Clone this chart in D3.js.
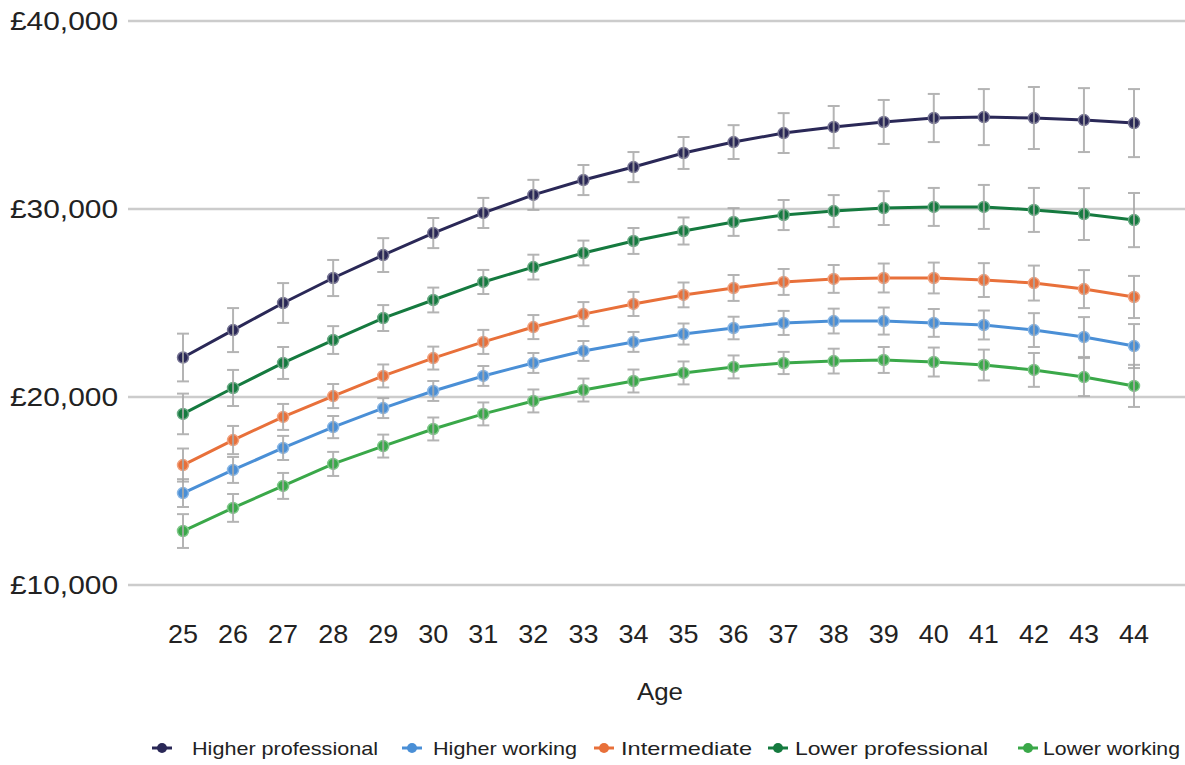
<!DOCTYPE html>
<html><head><meta charset="utf-8">
<script src="https://cdn.jsdelivr.net/npm/d3@7"></script>
<style>body{margin:0;background:#fff;} svg{display:block;font-family:Arial,"Liberation Sans",sans-serif;}</style>
</head><body><svg id="c" width="1185" height="765"></svg>
<script>
const ages = [25,26,27,28,29,30,31,32,33,34,35,36,37,38,39,40,41,42,43,44];
const yTicks = [10000,20000,30000,40000];
const seriesNames = ["Higher professional","Higher working","Intermediate","Lower professional","Lower working"];
const seriesColors = ["#2a2857","#4a8fd6","#e8703a","#157a3f","#3aa849"];

const higherProfessional = [22100,23560,25000,26330,27550,28720,29790,30750,31540,32230,32980,33560,34040,34360,34630,34840,34890,34840,34730,34570];
const higherProfessionalErr = [1270,1170,1060,960,900,800,800,800,800,800,850,900,1060,1120,1170,1280,1490,1650,1700,1810];
const higherWorking = [14890,16120,17290,18400,19410,20320,21120,21810,22450,22930,23350,23670,23940,24040,24040,23940,23830,23560,23190,22710];
const higherWorkingErr = [740,690,640,590,530,530,530,530,530,530,560,600,640,660,720,740,770,900,1060,1170];
const intermediate = [16380,17710,18940,20050,21120,22070,22930,23720,24410,24950,25430,25800,26120,26280,26330,26330,26220,26060,25740,25320];
const intermediateErr = [880,750,690,640,610,610,640,640,640,640,660,690,690,740,770,820,900,930,1010,1120];
const lowerProfessional = [19100,20480,21810,23030,24200,25160,26120,26910,27660,28300,28830,29310,29680,29890,30050,30110,30110,29950,29730,29410];
const lowerProfessionalErr = [1080,960,850,740,690,660,640,660,660,690,720,740,800,850,900,1010,1170,1170,1380,1440];
const lowerWorking = [12870,14100,15270,16440,17390,18300,19100,19790,20370,20850,21280,21600,21810,21910,21970,21860,21700,21440,21060,20590];
const lowerWorkingErr = [900,740,690,640,610,610,610,610,610,610,610,610,590,660,690,770,820,900,1010,1120];

const series = [
  {name: seriesNames[0], color: seriesColors[0], values: higherProfessional, err: higherProfessionalErr},
  {name: seriesNames[1], color: seriesColors[1], values: higherWorking, err: higherWorkingErr},
  {name: seriesNames[2], color: seriesColors[2], values: intermediate, err: intermediateErr},
  {name: seriesNames[3], color: seriesColors[3], values: lowerProfessional, err: lowerProfessionalErr},
  {name: seriesNames[4], color: seriesColors[4], values: lowerWorking, err: lowerWorkingErr}
];

const svg = d3.select("#c");
const x = d3.scalePoint().domain(ages).range([183,1134]);
const y = d3.scaleLinear().domain([10000,40000]).range([585,21]);

// gridlines
svg.append("g").selectAll("line").data(yTicks).join("line")
  .attr("x1",128).attr("x2",1185).attr("y1",d=>y(d)).attr("y2",d=>y(d))
  .attr("stroke","#cccccc").attr("stroke-width",2.5);

// y axis labels
const fmt = d => "£" + d3.format(",")(d);
svg.append("g").selectAll("text").data(yTicks).join("text")
  .attr("x",10).attr("y",d=>y(d)).attr("dy","0.36em").attr("text-anchor","start")
  .attr("font-size",25).attr("fill","#222")
  .attr("textLength",108).attr("lengthAdjust","spacingAndGlyphs").text(fmt);

// x axis labels
svg.append("g").selectAll("text").data(ages).join("text")
  .attr("x",d=>x(d)-15).attr("y",634).attr("dy","0.36em").attr("text-anchor","start")
  .attr("font-size",25).attr("fill","#222")
  .attr("textLength",30).attr("lengthAdjust","spacingAndGlyphs").text(d=>d);

svg.append("text").attr("x",637).attr("y",692).attr("dy","0.36em").attr("text-anchor","start")
  .attr("font-size",23).attr("fill","#222")
  .attr("textLength",46).attr("lengthAdjust","spacingAndGlyphs").text("Age");

const line = d3.line().x((d,i)=>x(ages[i])).y(d=>y(d));

series.forEach(s => {
  const g = svg.append("g");
  g.append("path").attr("d", line(s.values)).attr("fill","none")
    .attr("stroke", s.color).attr("stroke-width",3);
  g.selectAll("circle").data(s.values).join("circle")
    .attr("cx",(d,i)=>x(ages[i])).attr("cy",d=>y(d)).attr("r",5.5)
    .attr("fill",s.color).attr("stroke", d3.interpolateRgb(s.color,"#ffffff")(0.35)).attr("stroke-width",1.5);
  const eb = g.append("g").attr("stroke","#a8a8a8").attr("stroke-width",2).attr("opacity",0.85);
  s.values.forEach((v,i) => {
    const cx = x(ages[i]), lo = y(v - s.err[i]), hi = y(v + s.err[i]);
    eb.append("line").attr("x1",cx).attr("x2",cx).attr("y1",hi).attr("y2",lo);
    eb.append("line").attr("x1",cx-6).attr("x2",cx+6).attr("y1",hi).attr("y2",hi);
    eb.append("line").attr("x1",cx-6).attr("x2",cx+6).attr("y1",lo).attr("y2",lo);
  });
});

// legend
const legendMarkerX = [152,402,594,768,1018];
const legendTextX = [192,433,621,795,1043];
const legendTextW = [186,144,131,193,137];
const lg = svg.append("g");
series.forEach((s,i) => {
  const g = lg.append("g").attr("transform",`translate(0,748)`);
  g.append("line").attr("x1",legendMarkerX[i]).attr("x2",legendMarkerX[i]+20).attr("y1",0).attr("y2",0).attr("stroke",s.color).attr("stroke-width",3);
  g.append("circle").attr("cx",legendMarkerX[i]+10).attr("cy",0).attr("r",5).attr("fill",s.color);
  g.append("text").attr("x",legendTextX[i]).attr("y",0).attr("dy","0.36em").attr("font-size",19).attr("fill","#222")
    .attr("textLength",legendTextW[i]).attr("lengthAdjust","spacingAndGlyphs").text(s.name);
});
</script></body></html>
